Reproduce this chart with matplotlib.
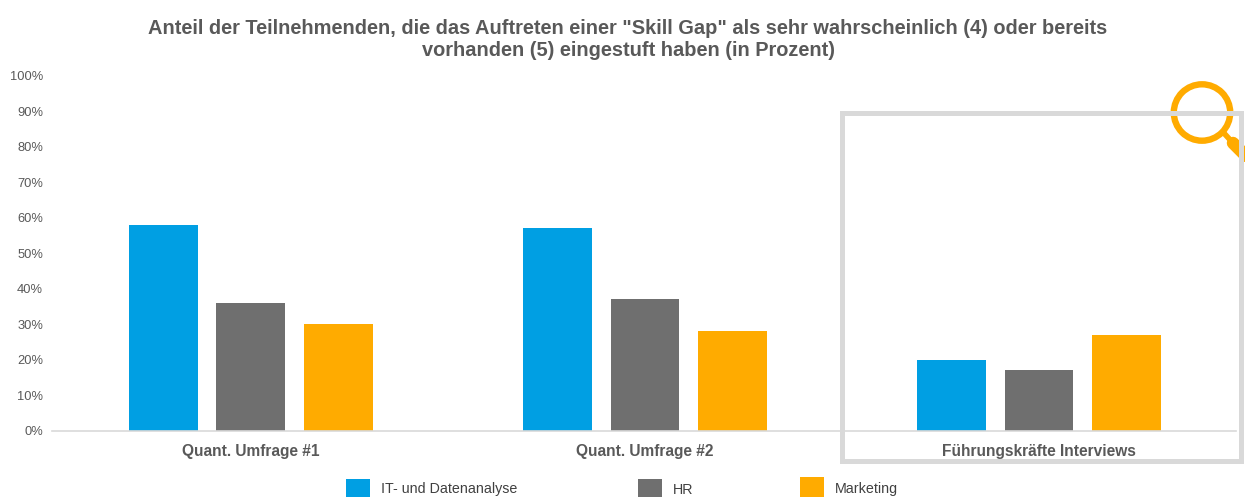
import numpy as np
import matplotlib
matplotlib.use("Agg")
import matplotlib.pyplot as plt
from matplotlib.patches import Rectangle, Circle
from matplotlib.ticker import PercentFormatter

groups = ["Quant. Umfrage #1", "Quant. Umfrage #2", "Führungskräfte Interviews"]
series_names = ["IT- und Datenanalyse", "HR", "Marketing"]
it_values = [58, 57, 20]
hr_values = [36, 37, 17]
marketing_values = [30, 28, 27]
colors = ["#009FE3", "#6F6F6F", "#FFAB00"]
title = ('Anteil der Teilnehmenden, die das Auftreten einer "Skill Gap" als sehr wahrscheinlich (4) oder bereits\n'
         'vorhanden (5) eingestuft haben (in Prozent)')

W, H = 1245, 497
plt.rcParams['font.family'] = ['Liberation Sans', 'DejaVu Sans']
fig = plt.figure(figsize=(W / 100, H / 100), dpi=100)


def fx(px):
    return px / W


def fy(py):
    return 1 - py / H


# axes spans the x baseline and the 0-100% range
ax = fig.add_axes([fx(52), fy(430.5), fx(1236 - 52), fy(76) - fy(430.5)])
x = np.arange(len(groups))
step, width = 0.222, 0.175
for i, vals in enumerate([it_values, hr_values, marketing_values]):
    ax.bar(x + (i - 1) * step, vals, width, color=colors[i], zorder=2)

ax.set_xlim(-0.505, 2.5)
ax.set_ylim(0, 100)
ax.set_yticks(range(0, 101, 10))
ax.yaxis.set_major_formatter(PercentFormatter(decimals=0))
ax.set_xticks(x)
ax.set_xticklabels(groups, fontweight='bold', fontsize=11.2, color='#595959')
ax.tick_params(axis='y', length=0, labelsize=9.3, labelcolor='#595959', pad=6.5)
ax.tick_params(axis='x', length=0, pad=9.5)
for s in ['top', 'right', 'left']:
    ax.spines[s].set_visible(False)
ax.spines['bottom'].set_color('#D9D9D9')
ax.spines['bottom'].set_linewidth(1.2)

fig.text(fx(628), fy(39.5), title, ha='center', va='center', fontsize=14.4,
         fontweight='bold', color='#595959', linespacing=1.18)

# highlight frame around the interview group
fig.add_artist(Rectangle((fx(842), fy(460.5)), fx(1241 - 842), fy(113) - fy(460.5),
                         transform=fig.transFigure, fill=False, ec='#D9D9D9', lw=3.6))

# magnifying glass on the frame corner
overlay = fig.add_axes([0, 0, 1, 1], facecolor='none')
overlay.set_xlim(0, W)
overlay.set_ylim(H, 0)
overlay.axis('off')
overlay.plot([1222, 1233], [131, 143], color='#FFAB00', lw=4, solid_capstyle='butt')
overlay.plot([1233, 1255], [143, 165], color='#FFAB00', lw=9, solid_capstyle='round')
overlay.add_patch(Circle((1202, 112.5), 28.2, fc='white', ec='#FFAB00', lw=4.6))

# legend entries sit at uneven positions, so they are placed one by one
legend_x = [346, 638, 800]
legend_y = [479, 479, 477]
legend_text_y = [489.5, 489.5, 488.5]
for name, color, lx, ly, ty in zip(series_names, colors, legend_x, legend_y, legend_text_y):
    overlay.add_patch(Rectangle((lx, ly), 24, 24, fc=color, ec='none'))
    overlay.text(lx + 35, ty, name, va='center', ha='left', fontsize=10.3, color='#404040')

fig.savefig('out.png', dpi=100)
